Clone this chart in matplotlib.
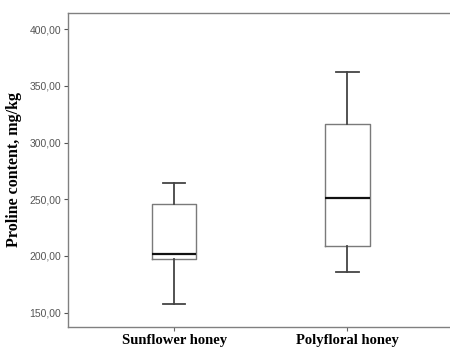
import matplotlib
matplotlib.use('Agg')
import matplotlib.pyplot as plt
from matplotlib.ticker import FuncFormatter

groups = ['Sunflower honey', 'Polyfloral honey']
whislo = [157.5, 185.5]
q1 = [197.0, 208.5]
med = [202.0, 251.0]
q3 = [245.5, 316.5]
whishi = [264.0, 362.5]
yticks = [150, 200, 250, 300, 350, 400]

stats = [dict(label=g, whislo=a, q1=b, med=c, q3=d, whishi=e)
         for g, a, b, c, d, e in zip(groups, whislo, q1, med, q3, whishi)]

fig = plt.figure(figsize=(4.5, 3.5), dpi=100)
ax = fig.add_axes([0.151, 0.066, 0.86, 0.897])

ax.bxp(stats, positions=[1, 2], widths=0.254, showfliers=False,
       boxprops=dict(color='#7a7a7a', linewidth=1.0),
       whiskerprops=dict(color='#444444', linewidth=1.3),
       capprops=dict(color='#444444', linewidth=1.3),
       medianprops=dict(color='#111111', linewidth=1.6))

ax.set_xlim(0.387, 2.62)
ax.set_ylim(137.4, 414.4)
ax.set_yticks(yticks)
ax.yaxis.set_major_formatter(FuncFormatter(lambda v, p: f'{v:.2f}'.replace('.', ',')))
ax.tick_params(axis='y', labelsize=7.5, colors='#555555', length=3, width=0.8, pad=2)
ax.tick_params(axis='x', length=3, width=0.8, color='#666666', pad=2)
for lbl in ax.get_yticklabels():
    lbl.set_family('Liberation Sans')
ax.set_xticklabels(groups, fontsize=10.5, fontweight='bold', family='Liberation Serif')
ax.set_ylabel('Proline content, mg/kg', fontsize=11.5, fontweight='bold',
              family='Liberation Serif', labelpad=5)

ax.spines['right'].set_visible(False)
for s in ax.spines.values():
    s.set_color('#808080')
    s.set_linewidth(1.0)

fig.savefig('out.png', dpi=100)
